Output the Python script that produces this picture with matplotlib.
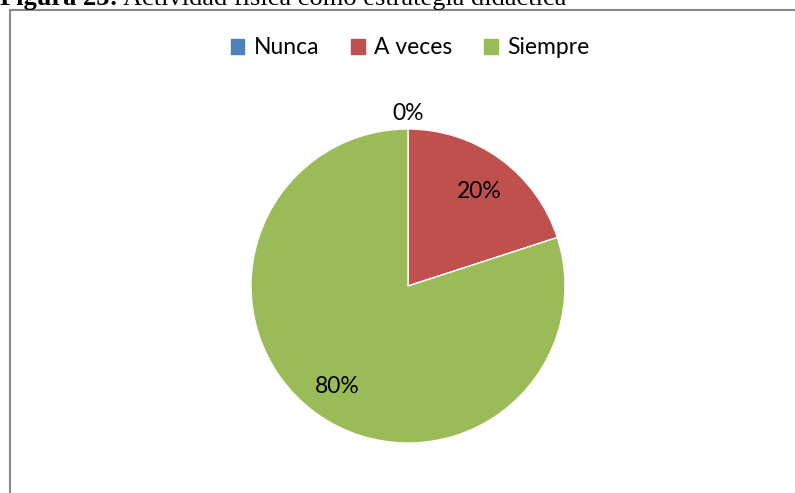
import numpy as np
import matplotlib.pyplot as plt
from matplotlib.patches import Rectangle

# data
labels = ['Nunca', 'A veces', 'Siempre']
values = [0, 20, 80]
colors = ['#4F81BD', '#C0504D', '#9BBB59']

W, H = 795, 493
fig = plt.figure(figsize=(W / 100, H / 100), dpi=100)

# chart frame (cropped at right and bottom)
fig.patches.append(Rectangle((10 / W, -0.1), 1.2, 1 - 10 / H + 0.1,
                             transform=fig.transFigure, fill=False,
                             edgecolor='#8a8a8a', linewidth=1.5))

# caption, cut off at the top as in the source
t1 = fig.text(0, 1 - 5 / H, 'Figura 23:', fontsize=19, fontweight='bold',
              family='Liberation Serif', va='baseline', ha='left')
fig.canvas.draw()
x1 = t1.get_window_extent().x1
fig.text((x1 + 5) / W, 1 - 5 / H, 'Actividad física como estrategia didáctica',
         fontsize=19, family='Liberation Serif', va='baseline', ha='left')

cx, cy, r = 408, 286, 157
ax = fig.add_axes([(cx - r) / W, (H - cy - r) / H, 2 * r / W, 2 * r / H])
wedges, _ = ax.pie(values, colors=colors, startangle=90, counterclock=False,
                   radius=1, wedgeprops=dict(edgecolor='white', linewidth=1))
ax.set_xlim(-1, 1)
ax.set_ylim(-1, 1)
ax.set_aspect('equal')
ax.axis('off')

total = sum(values)
for w, v in zip(wedges, values):
    ang = np.deg2rad((w.theta1 + w.theta2) / 2)
    d = 1.12 if v == 0 else 0.77
    ax.text(d * np.cos(ang), d * np.sin(ang) - 0.02, f'{v / total * 100:.0f}%',
            ha='center', va='center', fontsize=16.5, family='Lato')

handles = [Rectangle((0, 0), 1, 1, color=c) for c in colors]
fig.legend(handles, labels, loc='center', bbox_to_anchor=(410 / W, 1 - 48 / H),
           ncol=3, frameon=False, prop=dict(family='Lato', size=16.5),
           handlelength=0.6, handleheight=0.6, handletextpad=0.4, columnspacing=1.4)

fig.savefig('out.png', dpi=100)
